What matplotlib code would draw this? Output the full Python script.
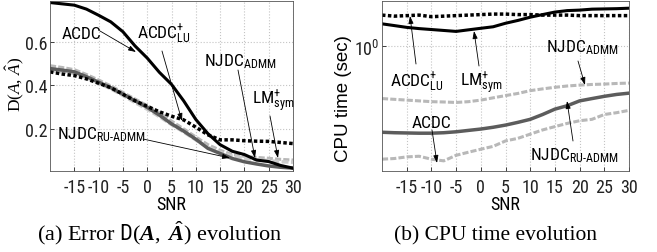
import matplotlib.pyplot as plt
from matplotlib import font_manager
from matplotlib.ticker import NullFormatter, NullLocator, FixedLocator

# the reference uses a narrow Helvetica look; use a narrow face when one is installed
installed = {f.name for f in font_manager.fontManager.ttflist}
narrow = [n for n in ['Liberation Sans Narrow', 'Arial Narrow', 'Roboto Condensed',
                      'Open Sans Condensed'] if n in installed]
if narrow:
    sans = narrow[0]
    fs_tick, fs_lab = 13, 12.5
else:
    sans = 'Liberation Sans'
    fs_tick, fs_lab = 11, 11

plt.rcParams['font.family'] = [sans, 'DejaVu Sans']
plt.rcParams['axes.unicode_minus'] = False
plt.rcParams['mathtext.fontset'] = 'custom'
plt.rcParams['mathtext.rm'] = 'Liberation Serif'
plt.rcParams['mathtext.it'] = 'Liberation Serif:italic'
plt.rcParams['mathtext.bf'] = 'Liberation Serif:italic:bold'
plt.rcParams['mathtext.sf'] = sans

# SNR grid shared by all curves
snr = [-20, -17.5, -15, -12.5, -10, -7.5, -5, -2.5, 0, 2.5, 5, 7.5,
       10, 12.5, 15, 17.5, 20, 22.5, 25, 27.5, 30]

# (a) error D(A, A_hat)
err_black = [0.778, 0.772, 0.766, 0.748, 0.72, 0.69, 0.645, 0.58, 0.525, 0.46, 0.405, 0.33,
             0.245, 0.18, 0.13, 0.1, 0.085, 0.06, 0.053, 0.035, 0.023]
err_dotted = [0.462, 0.452, 0.445, 0.43, 0.41, 0.39, 0.36, 0.33, 0.305, 0.28, 0.26, 0.243,
              0.21, 0.175, 0.152, 0.152, 0.148, 0.146, 0.145, 0.14, 0.135]
err_dark = [0.477, 0.47, 0.462, 0.44, 0.415, 0.39, 0.36, 0.33, 0.3, 0.265, 0.225, 0.192,
            0.155, 0.113, 0.09, 0.067, 0.052, 0.042, 0.033, 0.027, 0.023]
err_light1 = [0.49, 0.482, 0.472, 0.45, 0.425, 0.398, 0.368, 0.338, 0.308, 0.275, 0.238, 0.202,
              0.165, 0.13, 0.105, 0.085, 0.077, 0.072, 0.068, 0.063, 0.06]
err_light2 = [0.468, 0.462, 0.455, 0.435, 0.41, 0.385, 0.355, 0.322, 0.292, 0.258, 0.222, 0.188,
              0.152, 0.118, 0.095, 0.078, 0.068, 0.062, 0.057, 0.052, 0.05]

# (b) CPU time (sec)
cpu_acdc_lu = [1.50, 1.48, 1.49, 1.50, 1.47, 1.48, 1.49, 1.50, 1.51, 1.52, 1.52, 1.51,
               1.51, 1.50, 1.50, 1.50, 1.49, 1.49, 1.49, 1.49, 1.49]
cpu_lm_sym = [1.34, 1.31, 1.28, 1.26, 1.245, 1.23, 1.215, 1.24, 1.265, 1.29, 1.35, 1.40,
              1.46, 1.51, 1.56, 1.59, 1.60, 1.62, 1.625, 1.63, 1.64]
cpu_njdc_admm = [0.51, 0.505, 0.50, 0.495, 0.49, 0.488, 0.485, 0.49, 0.50, 0.515, 0.53, 0.545,
                 0.565, 0.578, 0.59, 0.60, 0.607, 0.612, 0.615, 0.62, 0.623]
cpu_njdc_ru = [0.33, 0.328, 0.327, 0.326, 0.326, 0.328, 0.332, 0.338, 0.344, 0.352, 0.362, 0.375,
               0.39, 0.415, 0.445, 0.465, 0.495, 0.51, 0.525, 0.538, 0.547]
cpu_acdc = [0.233, 0.235, 0.24, 0.242, 0.233, 0.228, 0.245, 0.255, 0.265, 0.275, 0.295, 0.305,
            0.322, 0.34, 0.355, 0.37, 0.383, 0.39, 0.415, 0.425, 0.438]

xticks = [-15, -10, -5, 0, 5, 10, 15, 20, 25, 30]

W, H = 657, 253
fig = plt.figure(figsize=(W / 100, H / 100), dpi=100)


def px_axes(x0, x1, y0, y1):
    return fig.add_axes([x0 / W, (H - y1) / H, (x1 - x0) / W, (y1 - y0) / H])


ax1 = px_axes(50, 293, 2, 172)
ax2 = px_axes(382, 629, 2, 172)

dotted = (0, (1, 0.7))
dashed = (0, (2, 0.7))
light = '#b8b8b8'
dark = '#5c5c5c'

ax1.plot(snr, err_light1, color=light, lw=2.2, ls=dashed)
ax1.plot(snr, err_light2, color='#cccccc', lw=2.5, ls=dashed)
ax1.plot(snr, err_dark, color=dark, lw=2.5)
ax1.plot(snr, err_dotted, color='black', lw=2.5, ls=dotted)
ax1.plot(snr, err_black, color='black', lw=2.2)

ax2.plot(snr, cpu_njdc_admm, color=light, lw=2.2, ls=dashed)
ax2.plot(snr, cpu_acdc, color=light, lw=2.2, ls=dashed)
ax2.plot(snr, cpu_njdc_ru, color=dark, lw=2.5)
ax2.plot(snr, cpu_acdc_lu, color='black', lw=2.5, ls=dotted)
ax2.plot(snr, cpu_lm_sym, color='black', lw=2.2)

ax1.set_xlim(-20, 30)
ax1.set_ylim(0.01, 0.785)
ax1.set_yticks([0.2, 0.4, 0.6])
ax2.set_xlim(-20, 30)
ax2.set_yscale('log')
ax2.set_ylim(0.2, 1.8)
ax2.yaxis.set_major_locator(FixedLocator([1.0]))
ax2.yaxis.set_minor_locator(NullLocator())
ax2.yaxis.set_minor_formatter(NullFormatter())

for ax in (ax1, ax2):
    ax.set_xticks(xticks)
    ax.grid(True, ls=':', color='#c4c4c4', lw=0.8)
    ax.tick_params(direction='in', length=3, width=0.6, labelsize=fs_tick, colors='#222222')
    ax.tick_params(axis='x', pad=5)
    for s in ax.spines.values():
        s.set_linewidth(0.6)
        s.set_color('#555555')
    ax.set_xlabel('SNR', fontsize=fs_tick, va='top')
    ax.xaxis.set_label_coords(0.5, -24 / 170)

ax1.tick_params(axis='y', pad=1.5)
ax2.tick_params(axis='y', pad=2)

ax1.set_ylabel(r'$\mathrm{D}(A,\,\hat{A})$', fontsize=12.5, va='center')
ax1.yaxis.set_label_coords((15 - 50) / 243, (172 - 84) / 170)
ax2.set_ylabel('CPU time (sec)', fontsize=13.5, va='center', family=['Liberation Sans', 'DejaVu Sans'])
ax2.yaxis.set_label_coords((344 - 382) / 247, (172 - 99) / 170)

hy = '\u2010'
# labels: (text, text left px, baseline px, arrow start px, arrow end px)
labels1 = [
    ('ACDC', 62, 39, (100, 32), (136, 53)),
    (r'ACDC$^{\mathsf{+}}_{\mathsf{LU}}$', 137, 39, (162, 52), (182, 122)),
    (r'NJDC$_{\mathsf{ADMM}}$', 204, 67, (238, 71), (255, 159)),
    (r'LM$^{\mathsf{+}}_{\mathsf{sym}}$', 252, 105, (270, 117), (278, 159)),
    (r'NJDC$_{\mathsf{RU' + hy + r'ADMM}}$', 57, 140, (143, 140), (230, 159)),
]
labels2 = [
    (r'ACDC$^{\mathsf{+}}_{\mathsf{LU}}$', 390, 87, (416, 65), (410, 17)),
    (r'LM$^{\mathsf{+}}_{\mathsf{sym}}$', 460, 87, (479, 67), (474, 32)),
    (r'NJDC$_{\mathsf{ADMM}}$', 546, 53, (578, 62), (585, 86)),
    ('ACDC', 412, 128, (432, 131), (437, 164)),
    (r'NJDC$_{\mathsf{RU' + hy + r'ADMM}}$', 530, 161, (573, 142), (567, 102)),
]


def put_labels(ax, x0, x1, items):
    def frac(p):
        return ((p[0] - x0) / (x1 - x0), (172 - p[1]) / 170)
    for txt, lx, by, a0, a1 in items:
        ax.text(*frac((lx, by)), txt, transform=ax.transAxes, fontsize=fs_lab,
                ha='left', va='baseline')
        ax.annotate('', xy=frac(a1), xytext=frac(a0), xycoords='axes fraction',
                    textcoords='axes fraction',
                    arrowprops=dict(arrowstyle='-|>,head_length=0.45,head_width=0.15',
                                    lw=0.6, color='black', shrinkA=0, shrinkB=0))


put_labels(ax1, 50, 293, labels1)
put_labels(ax2, 382, 629, labels2)

fig.text(160 / W, (H - 240) / H, r'(a) Error $\mathsf{D}(\mathbf{A},\ \hat{\mathbf{A}})$ evolution',
         family='Liberation Serif', fontsize=16, ha='center', va='baseline')
fig.text(495 / W, (H - 240) / H, '(b) CPU time evolution',
         family='Liberation Serif', fontsize=15.5, ha='center', va='baseline')

fig.savefig('out.png', dpi=100)
